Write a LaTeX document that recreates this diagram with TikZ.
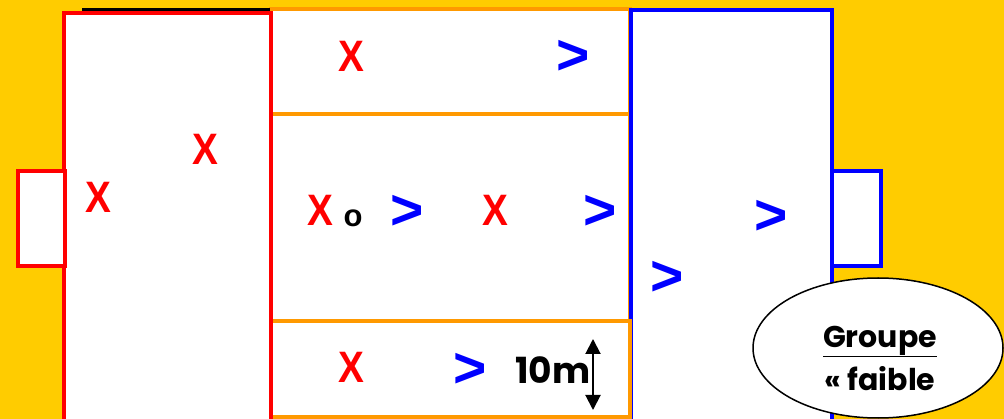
\documentclass[tikz,border=0pt]{standalone}
\usepackage{fontspec}
\setmainfont{Liberation Sans}
\newfontfamily\comicfont{Poppins}
\usetikzlibrary{shapes.geometric, arrows.meta}

\definecolor{fieldyellow}{HTML}{FFCC00}
\definecolor{zonered}{HTML}{FF0000}
\definecolor{zoneorange}{HTML}{FF9900}
\definecolor{zoneblue}{HTML}{0000FF}

\begin{document}
\begin{tikzpicture}[x=1pt, y=-1pt,
    % Zone styles
    redzone/.style={draw=zonered, fill=white, line width=4pt},
    orangezone/.style={draw=zoneorange, fill=white, line width=4pt},
    bluezone/.style={draw=zoneblue, fill=white, line width=4pt},
    % Player styles
    attacker/.style={text=zonered, font=\bfseries\fontsize{44}{44}\selectfont, xscale=0.88, inner sep=0pt},
    defender/.style={text=zoneblue, font=\bfseries\fontsize{57}{57}\selectfont, inner sep=0pt},
    ball/.style={font=\bfseries\fontsize{31}{31}\selectfont, inner sep=0pt},
    % Label styles
    dimlabel/.style={font=\comicfont\bfseries\fontsize{36}{36}\selectfont, inner sep=0pt},
    dimarrow/.style={{Triangle[length=15pt, width=15pt]}-{Triangle[length=15pt, width=15pt]}, line width=2pt},
    groupbubble/.style={ellipse, draw, fill=white, line width=1.5pt, minimum width=250pt, minimum height=140pt},
    grouptext/.style={align=center, inner sep=0pt, font=\comicfont\bfseries\fontsize{30}{43}\selectfont}
]
% Background
\fill[fieldyellow] (0,0) rectangle (1004,419);
\useasboundingbox (0,0) rectangle (1004,419);
\clip (0,0) rectangle (1004,419);
% Central zones
\draw[orangezone] (271,9) rectangle (630,114);
\draw[orangezone] (271,114) rectangle (630,321);
% Right zone and goal
\draw[bluezone] (631,10) rectangle (832,430);
\draw[bluezone] (832,171) rectangle (881,266);
\draw[orangezone] (271,321) rectangle (630,417);
% Left zone and goal
\draw[redzone] (64,13) rectangle (271,440);
\draw[redzone] (18,171) rectangle (65,266);
\draw[line width=3pt] (82,10) -- (270,10);
% Attackers
\node[attacker] (x1) at (351,56) {X};
\node[attacker] (x2) at (205,149) {X};
\node[attacker] (x3) at (98,197) {X};
\node[attacker] (x4) at (320,210) {X};
\node[attacker] (x5) at (495,210) {X};
\node[attacker] (x6) at (351,367) {X};
% Ball
\node[ball] (o1) at (353,218) {o};
% Defenders
\node[defender] (d1) at (573,57) {>};
\node[defender] (d2) at (407,212) {>};
\node[defender] (d3) at (600,212) {>};
\node[defender] (d4) at (771,217) {>};
\node[defender] (d5) at (667,278) {>};
\node[defender] (d6) at (470,370) {>};
% Zone depth
\node[dimlabel] (dist) at (553,370) {10m};
\coordinate (disttop) at (593,339);
\coordinate (distbot) at (593,410);
\draw[dimarrow] (disttop) -- (distbot);
% Group label
\node[groupbubble] (grp) at (878,348) {};
\node[grouptext] (grptxt) at (880,358) {\underline{Groupe}\\« faible};
\end{tikzpicture}
\end{document}
